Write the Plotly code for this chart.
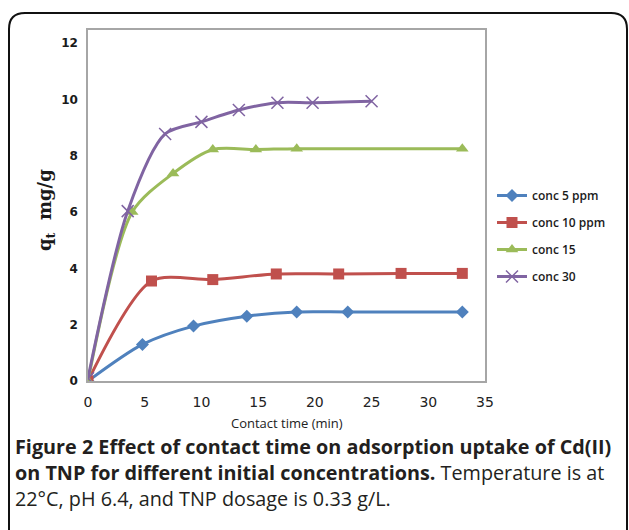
import plotly.graph_objects as go

# ---- data ----
t_5 = [0, 4.8, 9.3, 14.0, 18.4, 22.9, 33.0]
q_5 = [0, 1.3, 1.95, 2.3, 2.45, 2.45, 2.45]

t_10 = [0, 5.6, 11.0, 16.6, 22.1, 27.6, 33.0]
q_10 = [0, 3.55, 3.6, 3.8, 3.8, 3.82, 3.82]

t_15 = [0, 3.9, 7.5, 11.0, 14.8, 18.4, 33.0]
q_15 = [0, 6.0, 7.37, 8.22, 8.22, 8.25, 8.25]

t_30 = [0, 3.5, 6.8, 10.0, 13.3, 16.7, 19.8, 25.0]
q_30 = [0.1, 6.03, 8.77, 9.2, 9.62, 9.88, 9.88, 9.93]

names = ["conc 5 ppm", "conc 10 ppm", "conc 15", "conc 30"]
x_ticks = [0, 5, 10, 15, 20, 25, 30, 35]
y_ticks = [0, 2, 4, 6, 8, 10, 12]

# ---- layout geometry (pixels) ----
W, H = 629, 530
L, R, T, B = 88, 485, 30, 381


def px(x):
    return (x - L) / (R - L)


def py(y):
    return (B - y) / (B - T)


colors = ["#4F81BD", "#C0504D", "#9BBB59", "#8064A2"]
symbols = ["diamond", "square", "triangle-up", "x-thin-open"]
msizes = [10, 11, 11, 12]

fig = go.Figure()
series = [(t_5, q_5), (t_10, q_10), (t_15, q_15), (t_30, q_30)]
for i, (tx, qy) in enumerate(series):
    mk = dict(symbol=symbols[i], size=msizes[i], color=colors[i])
    if symbols[i] == "x-thin-open":
        mk["line"] = dict(color="#9F8CC0", width=1.5)
    fig.add_trace(go.Scatter(
        x=tx, y=qy, mode="lines+markers", name=names[i],
        legendgroup=str(i),
        line=dict(color=colors[i], width=3, shape="spline", smoothing=0.8),
        marker=mk,
    ))

fig.update_layout(
    width=W, height=H,
    margin=dict(l=L, r=W - R, t=T, b=H - B, autoexpand=False),
    plot_bgcolor="white", paper_bgcolor="white",
    showlegend=True,
    legend=dict(x=px(492), y=py(181), xanchor="left", yanchor="top",
                font=dict(family="Open Sans", size=12, color="#1a1a1a",
                          weight=600),
                tracegroupgap=8, traceorder="grouped",
                bgcolor="rgba(0,0,0,0)"),
    xaxis=dict(range=[0, 35], tickvals=x_ticks, showgrid=False, zeroline=False,
               showline=True, mirror=True, linecolor="#A6A6A6", linewidth=1.5,
               ticks="", ticklabelstandoff=7,
               tickfont=dict(family="DejaVu Sans", size=14, color="#222")),
    yaxis=dict(range=[0, 12 + 13 / ((B - 43) / 12)], tickvals=y_ticks,
               showgrid=False, zeroline=False,
               showline=True, mirror=True, linecolor="#A6A6A6", linewidth=1.5,
               ticks="", ticklabelstandoff=6,
               tickfont=dict(family="DejaVu Sans", size=12, color="#1a1a1a",
                             weight="bold")),
)

# axis titles
fig.add_annotation(text="Contact time (min)", xref="paper", yref="paper",
                   x=px(287), y=py(423), xanchor="center", yanchor="middle",
                   showarrow=False,
                   font=dict(family="Open Sans", size=13, color="#222"))
fig.add_annotation(text="<b>q<sub>t</sub>  mg/g</b>", xref="paper", yref="paper",
                   x=px(46), y=py(210), xanchor="center", yanchor="middle",
                   textangle=-90, showarrow=False,
                   font=dict(family="DejaVu Serif", size=18, color="#1a1a1a"))

# caption
cap_font = dict(family="Open Sans", size=19.8, color="#231F20")
captions = [
    (446, "<b>Figure 2 Effect of contact time on adsorption uptake of Cd(II)</b>"),
    (472, "<b>on TNP for different initial concentrations.</b> Temperature is at"),
    (498, "22°C, pH 6.4, and TNP dosage is 0.33 g/L."),
]
for yy, txt in captions:
    fig.add_annotation(text=txt, xref="paper", yref="paper",
                       x=px(13), y=py(yy), xanchor="left", yanchor="middle",
                       showarrow=False, font=cap_font)

# rounded outer frame
x0, x1, y0, y1, r = 9, 627, 13, 560, 16
path = (f"M {px(x0)} {py(y1)} L {px(x0)} {py(y0 + r)} "
        f"Q {px(x0)} {py(y0)} {px(x0 + r)} {py(y0)} "
        f"L {px(x1 - r)} {py(y0)} "
        f"Q {px(x1)} {py(y0)} {px(x1)} {py(y0 + r)} "
        f"L {px(x1)} {py(y1)}")
fig.add_shape(type="path", path=path, xref="paper", yref="paper",
              line=dict(color="#111", width=2))

fig.write_html("out.html",
               config={"displayModeBar": False},
               post_script="document.body.style.margin='0';"
                           "document.body.style.overflow='hidden';")
